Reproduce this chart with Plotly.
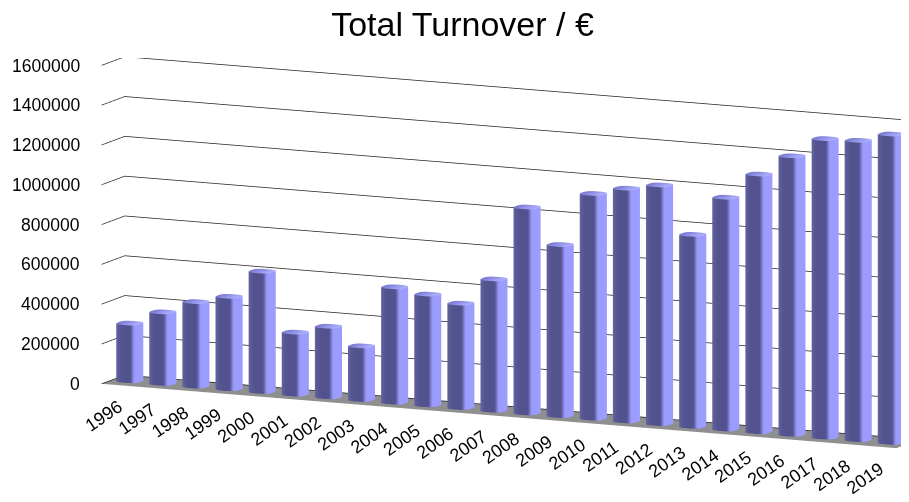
import numpy as np
import plotly.graph_objects as go

# ---------------- data ----------------
years = [str(y) for y in range(1996, 2020)]
turnover = [290000, 360000, 425000, 465000, 605000, 312000, 355000, 270000,
            580000, 557000, 525000, 660000, 1035000, 860000, 1130000, 1170000,
            1200000, 965000, 1165000, 1295000, 1400000, 1500000, 1505000, 1550000]
value_ticks = [0, 200000, 400000, 600000, 800000, 1000000, 1200000, 1400000, 1600000]
chart_title = "Total Turnover / €"

# ---------------- geometry settings ----------------
DEPTH = 1.5          # floor depth in category units
RAD = 0.34           # bar half-width (category units)
NSEG = 48
PEXP = 3.0           # superellipse exponent (rounded column)
ZMAX = value_ticks[-1]
ZCAT = 8.85          # wall height in category units
AX = 3.88            # x aspect

theta = np.radians(25)   # azimuth
phi = np.radians(10)     # elevation

dark = np.array([82, 82, 142])
light = np.array([156, 156, 255])


def side_color(nx, ny):
    L = np.array([1.0, -0.25]); L = L / np.linalg.norm(L)
    s = nx * L[0] + ny * L[1]
    t = np.clip((s - 0.45) / 0.45, 0, 1)
    t = t * t * (3 - 2 * t)
    c = dark + (light - dark) * t
    rim = np.clip(-nx, 0, 1) * 25
    c = np.clip(c + rim, 0, 255)
    return "rgb(%d,%d,%d)" % tuple(c.astype(int))


X, Y, Z, I, J, K, C = [], [], [], [], [], [], []
ts = np.linspace(0, 2 * np.pi, NSEG, endpoint=False)
cs, ss = np.cos(ts), np.sin(ts)
ux = np.sign(cs) * np.abs(cs) ** (2 / PEXP)
uy = np.sign(ss) * np.abs(ss) ** (2 / PEXP)
nx = np.sign(cs) * np.abs(cs) ** (2 * (PEXP - 1) / PEXP)
ny = np.sign(ss) * np.abs(ss) ** (2 * (PEXP - 1) / PEXP)
nn = np.hypot(nx, ny); nx, ny = nx / nn, ny / nn

for idx, v in enumerate(turnover):
    cx, cy = idx, DEPTH / 2
    base = len(X)
    for k in range(NSEG):
        col = side_color(nx[k], ny[k])
        for zz in (0, v):
            X.append(cx + RAD * ux[k]); Y.append(cy + RAD * uy[k]); Z.append(zz); C.append(col)
    for k in range(NSEG):
        a0 = base + 2 * k; a1 = a0 + 1
        b0 = base + 2 * ((k + 1) % NSEG); b1 = b0 + 1
        I += [a0, a1]; J += [b0, b0]; K += [a1, b1]
    # top cap
    cbase = len(X)
    X.append(cx); Y.append(cy); Z.append(v); C.append("rgb(150,150,240)")
    for k in range(NSEG):
        f = 0.5 + 0.5 * ux[k]
        c = np.array([118, 118, 205]) + (np.array([178, 178, 255]) - np.array([118, 118, 205])) * f
        X.append(cx + RAD * ux[k]); Y.append(cy + RAD * uy[k]); Z.append(v)
        C.append("rgb(%d,%d,%d)" % tuple(c.astype(int)))
    for k in range(NSEG):
        I.append(cbase); J.append(cbase + 1 + k); K.append(cbase + 1 + (k + 1) % NSEG)

bars = go.Mesh3d(x=X, y=Y, z=Z, i=I, j=J, k=K, vertexcolor=C,
                 flatshading=False, hoverinfo="skip",
                 lighting=dict(ambient=1.0, diffuse=0.0, specular=0.0, roughness=1.0, fresnel=0.0))

fig = go.Figure(bars)

font_fam = "Liberation Sans, Arial, sans-serif"
annots = []
for v in value_ticks:
    annots.append(dict(x=-0.5, y=0, z=min(v, ZMAX * 0.9995), text=str(v), showarrow=False,
                       xanchor="right", yanchor="middle", xshift=-20,
                       font=dict(family=font_fam, size=17.5, color="black")))
for idx, yr in enumerate(years):
    annots.append(dict(x=idx, y=DEPTH / 2, z=0, text=yr, showarrow=False, textangle=-35,
                       xanchor="right", yanchor="top", xshift=-1, yshift=-13,
                       font=dict(family=font_fam, size=18, color="black")))

R = 1.6
eye = np.array([np.sin(theta) * np.cos(phi), -np.cos(theta) * np.cos(phi), np.sin(phi)]) * R
center = np.array([-0.1824, -0.1119, -0.1375])

ax_common = dict(showspikes=False, zeroline=False, showticklabels=False, ticks="",
                 title=dict(text=""), showline=False)
fig.update_layout(
    width=909, height=502,
    margin=dict(l=0, r=0, t=0, b=0),
    paper_bgcolor="white",
    title=dict(text=chart_title, x=0.5, xanchor="center", y=1 - 16 / 502, yanchor="middle",
               yref="container", font=dict(family=font_fam, size=34, color="black")),
    scene=dict(
        domain=dict(x=[0, 1], y=[0, 0.9]),
        xaxis=dict(range=[-0.5, len(years) - 0.5], showgrid=False, showbackground=True,
                   backgroundcolor="white", **ax_common),
        yaxis=dict(range=[0, DEPTH], showgrid=False, showbackground=True,
                   backgroundcolor="white", **ax_common),
        zaxis=dict(range=[0, ZMAX], tickvals=value_ticks, showgrid=True, gridcolor="#222222",
                   gridwidth=1.5, showbackground=True, backgroundcolor="#8f8f8f", **ax_common),
        aspectmode="manual",
        aspectratio=dict(x=AX, y=AX * DEPTH / 24, z=AX * ZCAT / 24),
        camera=dict(eye=dict(x=eye[0] + center[0], y=eye[1] + center[1], z=eye[2] + center[2]),
                    center=dict(x=center[0], y=center[1], z=center[2]),
                    up=dict(x=0, y=0, z=1),
                    projection=dict(type="orthographic")),
        annotations=annots,
        dragmode=False,
    ),
    hovermode=False,
    showlegend=False,
)

fig.write_html("out.html")
